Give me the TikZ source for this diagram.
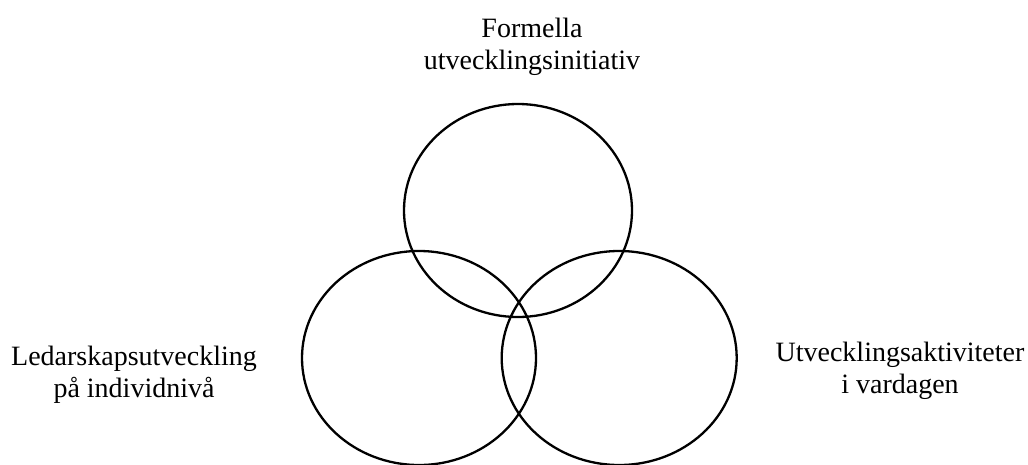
\documentclass[tikz,border=0pt]{standalone}
\usepackage{fontspec}
\setmainfont{Liberation Serif}
\usetikzlibrary{shapes.geometric}
\begin{document}
\begin{tikzpicture}[x=1pt,y=-1pt,
  setring/.style={draw=black, line width=2.3pt, ellipse, inner sep=0pt, outer sep=0pt},
  lbl/.style={align=center, inner sep=0pt, anchor=base, font=\fontsize{28}{32}\selectfont}]
\useasboundingbox (0,0) rectangle (1028,464);
\node[setring, minimum width=228pt, minimum height=213pt] (top) at (518,210.5) {};
\node[setring, minimum width=234pt, minimum height=214pt] (left) at (419,358) {};
\node[setring, minimum width=235pt, minimum height=214pt] (right) at (619.2,358) {};
\node[lbl] (ttop) at (532,69.5) {Formella\\utvecklingsinitiativ};
\node[lbl] (tleft) at (134,397) {Ledarskapsutveckling\\på individnivå};
\node[lbl] (tright) at (900,393) {Utvecklingsaktiviteter\\i vardagen};
\end{tikzpicture}
\end{document}
